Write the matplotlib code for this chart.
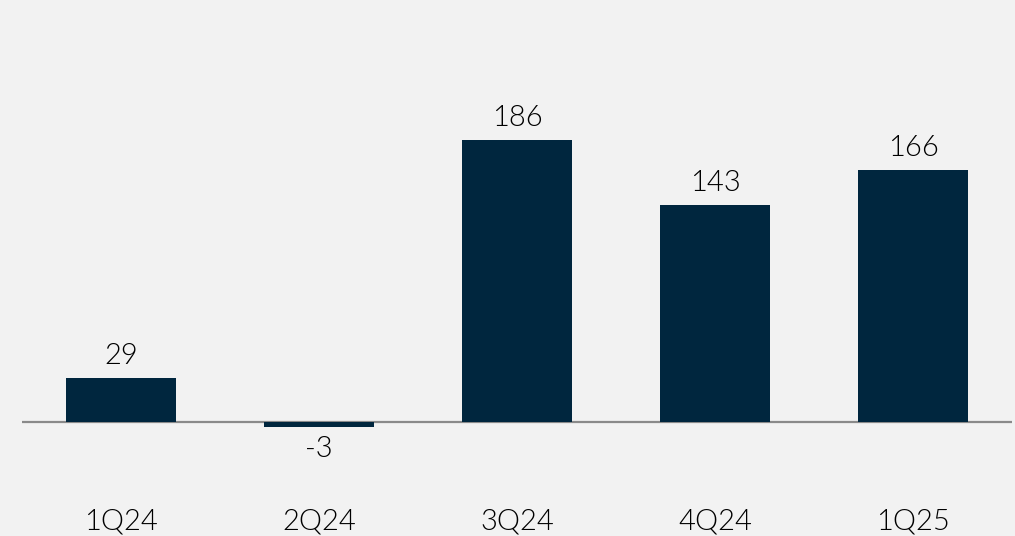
import matplotlib
matplotlib.use("Agg")
import matplotlib.pyplot as plt

categories = ["1Q24", "2Q24", "3Q24", "4Q24", "1Q25"]
values = [29, -3, 186, 143, 166]
labels = ["29", "-3", "186", "143", "166"]

bg = "#f2f2f2"
bar_color = "#00263e"

fig = plt.figure(figsize=(10.15, 5.36), dpi=100)
fig.patch.set_facecolor(bg)
ax = fig.add_axes([22/1015, 0, 990/1015, 1])
ax.set_facecolor(bg)
ax.set_xlim(-0.5, 4.5)
ax.set_ylim(-75.2, 278.4)

x = list(range(len(categories)))
ax.axhline(0, color="#8a8a8a", linewidth=1.6, zorder=1)
ax.bar(x, values, width=0.556, color=bar_color, zorder=2)

font = dict(family=["Lato", "DejaVu Sans"], fontweight=300, fontsize=21, color="#000000")
for xi, v, lab in zip(x, values, labels):
    if v >= 0:
        ax.text(xi, v + 6, lab, ha="center", va="bottom", **font)
    else:
        ax.text(xi, v - 6, lab, ha="center", va="top", **font)
    ax.text(xi, -65.5, categories[xi], ha="center", va="center", **font)

ax.axis("off")
fig.savefig("out.png", dpi=100, facecolor=bg)
